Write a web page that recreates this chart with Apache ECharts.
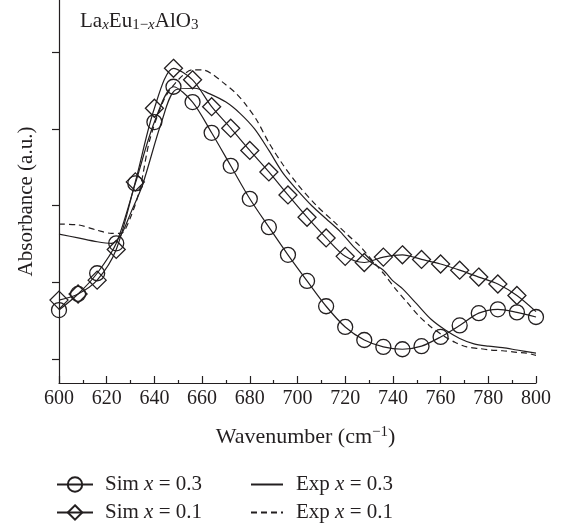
<!DOCTYPE html>
<html>
<head>
<meta charset="utf-8">
<title>Absorbance</title>
<script src="https://cdn.jsdelivr.net/npm/echarts@6/dist/echarts.min.js"></script>
<style>
    html, body { margin: 0; padding: 0; background: #fff; }
    #absorb_chart { width: 563px; height: 525px; }
</style>
</head>
<body>
<div id="absorb_chart"></div>
<script>
// 模拟值 (每 8 cm-1 一个点)
var simWave = [600, 608, 616, 624, 632, 640, 648, 656, 664, 672, 680, 688, 696,
    704, 712, 720, 728, 736, 744, 752, 760, 768, 776, 784, 792, 800];
var simX03 = [0.64, 0.85, 1.12, 1.51, 2.29, 3.09, 3.55, 3.35, 2.95, 2.52, 2.09, 1.72, 1.36,
    1.02, 0.69, 0.42, 0.25, 0.16, 0.13, 0.17, 0.29, 0.44, 0.60, 0.65, 0.61, 0.55];
var simX01 = [0.77, 0.85, 1.03, 1.43, 2.31, 3.27, 3.79, 3.64, 3.29, 3.01, 2.72, 2.44, 2.14,
    1.85, 1.58, 1.34, 1.26, 1.33, 1.36, 1.30, 1.24, 1.16, 1.07, 0.98, 0.83, 0.62];

// 实验值
var expX03Wave = [600, 608, 616, 622, 626, 630, 635, 643, 649, 657, 663, 670, 676, 682, 688,
    694, 700, 706, 712, 718, 724, 730, 736, 740, 744, 750, 756, 762, 768, 774, 780, 786, 792, 800];
var expX03 = [1.63, 1.58, 1.53, 1.51, 1.62, 1.90, 2.27, 3.09, 3.51, 3.53, 3.46, 3.35, 3.20, 3.00, 2.72,
    2.42, 2.20, 2.00, 1.83, 1.66, 1.45, 1.28, 1.16, 1.02, 0.92, 0.72, 0.52, 0.38, 0.27, 0.20, 0.17, 0.15, 0.12, 0.08];
var expX01Wave = [600, 608, 616, 622, 626, 630, 634, 638, 644, 650, 656, 660, 664, 669, 674, 678, 683,
    688, 694, 700, 708, 715, 721, 726, 731, 736, 741, 746, 751, 756, 761, 766, 771, 776, 781, 786, 792, 796, 800];
var expX01 = [1.76, 1.75, 1.68, 1.64, 1.64, 1.85, 2.23, 2.85, 3.38, 3.64, 3.77, 3.77, 3.72, 3.60, 3.47, 3.33, 3.11,
    2.82, 2.53, 2.28, 2.00, 1.80, 1.62, 1.48, 1.30, 1.12, 0.92, 0.74, 0.56, 0.42, 0.31, 0.22, 0.16, 0.14, 0.12, 0.11, 0.09, 0.08, 0.05];

// 坐标轴刻度
var xTicks = [600, 620, 640, 660, 680, 700, 720, 740, 760, 780, 800];
var yTicks = [0, 1, 2, 3, 4];

var absorb_chart = {
    ink : '#231f20',
    font : 'Liberation Serif',
    /**
     * 页面初始化
     */
    init : function() {
        var chart = echarts.init(document.getElementById('absorb_chart'), null, {
            renderer : 'canvas'
        });
        chart.setOption(this.getOption());
    },
    /**
     * 组合数据点
     */
    pairs : function(xs, ys) {
        var out = [];
        for (var i = 0; i < xs.length; i++) {
            out.push([ xs[i], ys[i] ]);
        }
        return out;
    },
    /**
     * 单项图例
     */
    legend : function(left, top, itemWidth, pad, name) {
        var ink = this.ink;
        var font = this.font;
        return {
            left : left,
            top : top,
            padding : 0,
            itemWidth : itemWidth,
            itemHeight : 18,
            selectedMode : false,
            data : [ name ],
            textStyle : {
                fontFamily : font,
                fontSize : 21,
                lineHeight : 19,
                color : ink,
                padding : [ 0, 0, 0, pad ],
                rich : {
                    i : {
                        fontFamily : font,
                        fontStyle : 'italic',
                        fontSize : 21,
                        lineHeight : 19,
                        color : ink
                    }
                }
            },
            formatter : function(n) {
                return n.replace(' x ', ' {i|x} ');
            }
        };
    },
    /**
     * 图表配置
     */
    getOption : function() {
        var ink = this.ink;
        var font = this.font;
        var sim01 = this.pairs(simWave, simX01);
        // 800 处只画线不画菱形
        sim01[sim01.length - 1] = {
            value : sim01[sim01.length - 1],
            symbol : 'none'
        };
        var hollow = { color : 'rgba(255,255,255,0)', borderColor : ink, borderWidth : 1.3 };
        var noDot = { color : 'rgba(255,255,255,0)', borderWidth : 0 };
        var subStyle = {
            fontFamily : font,
            fontSize : 15,
            color : ink,
            verticalAlign : 'bottom',
            padding : [ 9, 0, 0, 0 ]
        };

        return {
            animation : false,
            backgroundColor : '#fff',
            title : {
                text : 'La{s|x}Eu{n|1−}{s|x}AlO{n|3}',
                left : 75,
                top : 4,
                textStyle : {
                    fontFamily : font,
                    fontWeight : 'normal',
                    fontSize : 21,
                    color : ink,
                    rich : {
                        s : echarts.util.extend({ fontStyle : 'italic' }, subStyle),
                        n : subStyle
                    }
                }
            },
            legend : [
                this.legend(56, 474, 36, 7, 'Sim x = 0.3'),
                this.legend(56, 502, 36, 7, 'Sim x = 0.1'),
                this.legend(250, 474, 32, 8, 'Exp x = 0.3'),
                this.legend(250, 502, 32, 8, 'Exp x = 0.1')
            ],
            grid : {
                left : 59,
                right : 27,
                top : 0,
                bottom : 142,
                containLabel : false
            },
            xAxis : {
                type : 'value',
                min : 600,
                max : 800,
                interval : 20,
                name : 'Wavenumber (cm{sup|−1})',
                nameLocation : 'middle',
                nameGap : 42,
                nameTextStyle : {
                    fontFamily : font,
                    fontSize : 22,
                    color : ink,
                    padding : [ 0, 0, 0, 16 ],
                    rich : {
                        sup : {
                            fontFamily : font,
                            fontSize : 15,
                            color : ink,
                            verticalAlign : 'top',
                            padding : [ 0, 0, 9, 0 ]
                        }
                    }
                },
                axisLine : {
                    onZero : false,
                    lineStyle : { color : ink, width : 1.2 }
                },
                axisTick : {
                    inside : true,
                    length : 7,
                    lineStyle : { color : ink, width : 1.2 }
                },
                minorTick : {
                    show : true,
                    splitNumber : 2,
                    length : 3,
                    lineStyle : { color : ink, width : 1.2 }
                },
                axisLabel : {
                    margin : 6,
                    fontFamily : font,
                    fontSize : 20,
                    color : ink,
                    formatter : function(v) {
                        return xTicks.indexOf(v) >= 0 ? String(v) : '';
                    }
                },
                splitLine : { show : false }
            },
            yAxis : {
                type : 'value',
                min : -0.31,
                max : 4.68,
                name : 'Absorbance (a.u.)',
                nameLocation : 'middle',
                nameGap : 22,
                nameTextStyle : {
                    fontFamily : font,
                    fontSize : 21,
                    color : ink,
                    padding : [ 0, 20, 0, 0 ]
                },
                axisLine : {
                    show : true,
                    onZero : false,
                    lineStyle : { color : ink, width : 1.2 }
                },
                axisTick : {
                    show : true,
                    length : 7,
                    customValues : yTicks,
                    lineStyle : { color : ink, width : 1.2 }
                },
                axisLabel : { show : false },
                splitLine : { show : false }
            },
            series : [ {
                name : 'Sim x = 0.3',
                type : 'line',
                smooth : 0.3,
                symbol : 'circle',
                symbolSize : 15,
                data : this.pairs(simWave, simX03),
                itemStyle : hollow,
                lineStyle : { color : ink, width : 1.2 }
            }, {
                name : 'Sim x = 0.1',
                type : 'line',
                smooth : 0.3,
                symbol : 'diamond',
                symbolSize : 18,
                data : sim01,
                itemStyle : hollow,
                lineStyle : { color : ink, width : 1.2 }
            }, {
                name : 'Exp x = 0.3',
                type : 'line',
                smooth : 0.3,
                showSymbol : false,
                symbol : 'none',
                data : this.pairs(expX03Wave, expX03),
                itemStyle : noDot,
                lineStyle : { color : ink, width : 1.2 }
            }, {
                name : 'Exp x = 0.1',
                type : 'line',
                smooth : 0.3,
                showSymbol : false,
                symbol : 'none',
                data : this.pairs(expX01Wave, expX01),
                itemStyle : noDot,
                lineStyle : { color : ink, width : 1.2, type : [ 6, 4 ] }
            } ]
        };
    }
};

absorb_chart.init();
</script>
</body>
</html>
